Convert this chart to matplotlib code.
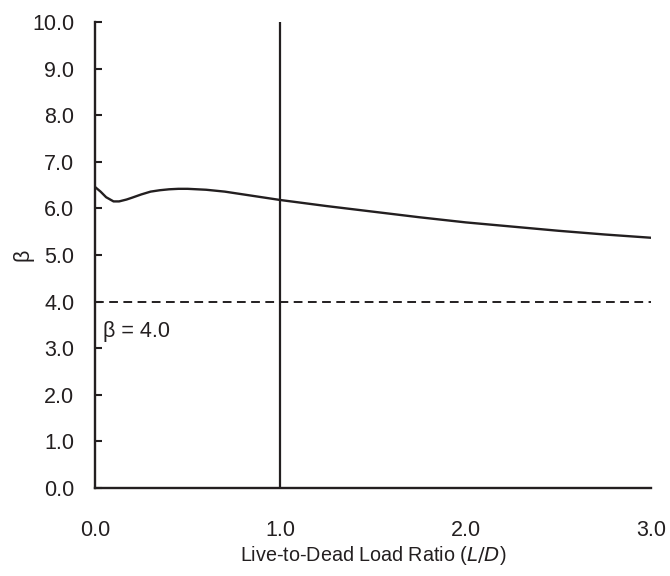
import matplotlib
matplotlib.use("Agg")
import matplotlib.pyplot as plt
import numpy as np

plt.rcParams['font.family'] = ['Liberation Sans', 'DejaVu Sans']

ld = [0.0, 0.03, 0.06, 0.1, 0.13, 0.17, 0.2, 0.25, 0.3, 0.35, 0.4, 0.45, 0.5, 0.6, 0.7, 0.8, 0.9, 1.0,
      1.25, 1.5, 1.75, 2.0, 2.25, 2.5, 2.75, 3.0]
beta = [6.46, 6.36, 6.24, 6.15, 6.15, 6.19, 6.23, 6.30, 6.36, 6.39, 6.41, 6.42, 6.42, 6.40, 6.36, 6.30, 6.24, 6.18,
        6.05, 5.93, 5.81, 5.70, 5.61, 5.52, 5.44, 5.37]
target_beta = 4.0
ld_mark = 1.0
xticks = [0.0, 1.0, 2.0, 3.0]
yticks = [0.0, 1.0, 2.0, 3.0, 4.0, 5.0, 6.0, 7.0, 8.0, 9.0, 10.0]

col = '#231f20'
fig = plt.figure(figsize=(6.7, 5.76), dpi=100)
ax = fig.add_axes([0.1418, 0.1528, 0.8298, 0.809])
ax.plot(ld, beta, color=col, lw=1.7, solid_joinstyle='round')
ax.axhline(target_beta, color=col, lw=1.4, ls=(0, (4.5, 2.8)))
ax.axvline(ld_mark, color=col, lw=1.6)
ax.text(0.043, 3.24, 'β = 4.0', fontsize=15.5, color=col)
ax.set_xlim(0, 3)
ax.set_ylim(0, 10)
ax.set_xticks(xticks)
ax.set_xticklabels([f'{v:.1f}' for v in xticks])
ax.set_yticks(yticks)
ax.set_yticklabels([f'{v:.1f}' for v in yticks])
ax.tick_params(axis='y', direction='in', length=5, width=1.5, color=col, labelsize=15.5, labelcolor=col, pad=15)
ax.tick_params(axis='x', length=0, labelsize=15.5, labelcolor=col, pad=23)
for s in ['top', 'right']:
    ax.spines[s].set_visible(False)
for s in ['left', 'bottom']:
    ax.spines[s].set_color(col)
    ax.spines[s].set_linewidth(1.7)
ax.set_xlabel('Live-to-Dead Load Ratio ($\\it{L/D}$)', fontsize=14.2, color=col, labelpad=2)
ax.set_ylabel('β', fontsize=15.5, color=col)
ax.yaxis.set_label_coords(-0.1115, 0.5)
fig.savefig('out.png', dpi=100)
